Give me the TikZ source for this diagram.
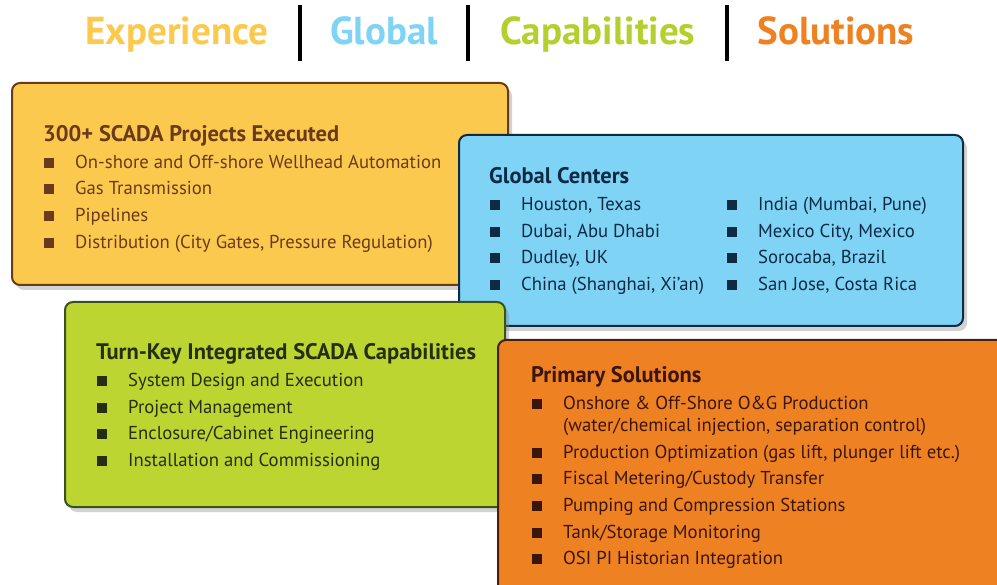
\documentclass[tikz,border=0pt]{standalone}
\usepackage{fontspec}
\setmainfont{PT Sans}
\usetikzlibrary{shadows}
\definecolor{expfill}{HTML}{FCC94F}
\definecolor{expline}{HTML}{6B3A1A}
\definecolor{globfill}{HTML}{7FD3F5}
\definecolor{globline}{HTML}{0E2A45}
\definecolor{capfill}{HTML}{BCD531}
\definecolor{capline}{HTML}{3A5220}
\definecolor{capttl}{HTML}{B5D02E}
\definecolor{solfill}{HTML}{EE8223}
\definecolor{solline}{HTML}{4A1E0E}
\definecolor{soltext}{HTML}{3A150C}
\definecolor{captext}{HTML}{262E12}
\newcommand{\bx}[1]{\makebox[31pt][l]{\raisebox{0.5pt}{\rule{10pt}{10pt}}}#1}
\tikzset{
  panel/.style={draw, line width=2pt, rounded corners=8pt, inner sep=0pt,
    drop shadow={opacity=0.35, shadow xshift=4pt, shadow yshift=-5pt}},
  ttl/.style={anchor=base, font=\bfseries\fontsize{39}{39}\selectfont},
  bar/.style={line width=3.5pt, black},
  hd/.style={anchor=base west, inner sep=0pt, font=\bfseries\fontsize{22.5}{24}\selectfont},
  itm/.style={anchor=base west, inner sep=0pt, font=\fontsize{18.7}{22}\selectfont}
}
\begin{document}
\begin{tikzpicture}[x=1pt,y=-1pt]
  \clip (0,0) rectangle (997,585);
  \fill[white] (0,0) rectangle (997,585);
  % title row
  \node[ttl, text=expfill] (texp) at (177,45) {Experience};
  \node[ttl, text=globfill] (tglob) at (384,45) {Global};
  \node[ttl, text=capttl] (tcap) at (598,45) {Capabilities};
  \node[ttl, text=solfill] (tsol) at (836,45) {Solutions};
  \coordinate (b1t) at (300,5);  \coordinate (b1b) at (300,61);
  \coordinate (b2t) at (468,5);  \coordinate (b2b) at (468,61);
  \coordinate (b3t) at (727,5);  \coordinate (b3b) at (727,61);
  \draw[bar] (b1t) -- (b1b);
  \draw[bar] (b2t) -- (b2b);
  \draw[bar] (b3t) -- (b3b);
  % panels
  \node[panel, fill=expfill, draw=expline, minimum width=496pt, minimum height=202pt] (exp) at (260,184) {};
  \node[panel, fill=globfill, draw=globline, minimum width=504pt, minimum height=191pt] (glob) at (711,230.5) {};
  \node[panel, fill=capfill, draw=capline, minimum width=440pt, minimum height=205pt] (cap) at (285,404.5) {};
  \node[panel, fill=solfill, draw=solline, minimum width=520pt, minimum height=260pt] (sol) at (758,470) {};
  % experience
  \begin{scope}[text=expline]
    \node[hd] (e0) at (43,142) {300+ SCADA Projects Executed};
    \node[itm] (e1) at (44,168.5) {\bx{On-shore and Off-shore Wellhead Automation}};
    \node[itm] (e2) at (44,194.5) {\bx{Gas Transmission}};
    \node[itm] (e3) at (44,221.5) {\bx{Pipelines}};
    \node[itm] (e4) at (44,248.5) {\bx{Distribution (City Gates, Pressure Regulation)}};
  \end{scope}
  % global
  \begin{scope}[text=globline]
    \node[hd] (g0) at (489,184) {Global Centers};
    \node[itm] (g1) at (490,210.5) {\bx{Houston, Texas}};
    \node[itm] (g2) at (490,237.5) {\bx{Dubai, Abu Dhabi}};
    \node[itm] (g3) at (490,263.5) {\bx{Dudley, UK}};
    \node[itm] (g4) at (490,290.5) {\bx{China (Shanghai, Xi’an)}};
    \node[itm] (g5) at (727,210.5) {\bx{India (Mumbai, Pune)}};
    \node[itm] (g6) at (727,237.5) {\bx{Mexico City, Mexico}};
    \node[itm] (g7) at (727,263.5) {\bx{Sorocaba, Brazil}};
    \node[itm] (g8) at (727,290.5) {\bx{San Jose, Costa Rica}};
  \end{scope}
  % capabilities
  \begin{scope}[text=captext]
    \node[hd] (c0) at (96,360) {Turn-Key Integrated SCADA Capabilities};
    \node[itm] (c1) at (97,386.5) {\bx{System Design and Execution}};
    \node[itm] (c2) at (97,413.5) {\bx{Project Management}};
    \node[itm] (c3) at (97,439.5) {\bx{Enclosure/Cabinet Engineering}};
    \node[itm] (c4) at (97,466.5) {\bx{Installation and Commissioning}};
  \end{scope}
  % solutions
  \begin{scope}[text=soltext]
    \node[hd] (s0) at (531,383) {Primary Solutions};
    \node[itm] (s1) at (532,409.5) {\bx{Onshore \& Off-Shore O\&G Production}};
    \node[itm] (s1b) at (563,431.5) {(water/chemical injection, separation control)};
    \node[itm] (s2) at (532,458.5) {\bx{Production Optimization (gas lift, plunger lift etc.)}};
    \node[itm] (s3) at (532,484.5) {\bx{Fiscal Metering/Custody Transfer}};
    \node[itm] (s4) at (532,511.5) {\bx{Pumping and Compression Stations}};
    \node[itm] (s5) at (532,538.5) {\bx{Tank/Storage Monitoring}};
    \node[itm] (s6) at (532,564.5) {\bx{OSI PI Historian Integration}};
  \end{scope}
\end{tikzpicture}
\end{document}
